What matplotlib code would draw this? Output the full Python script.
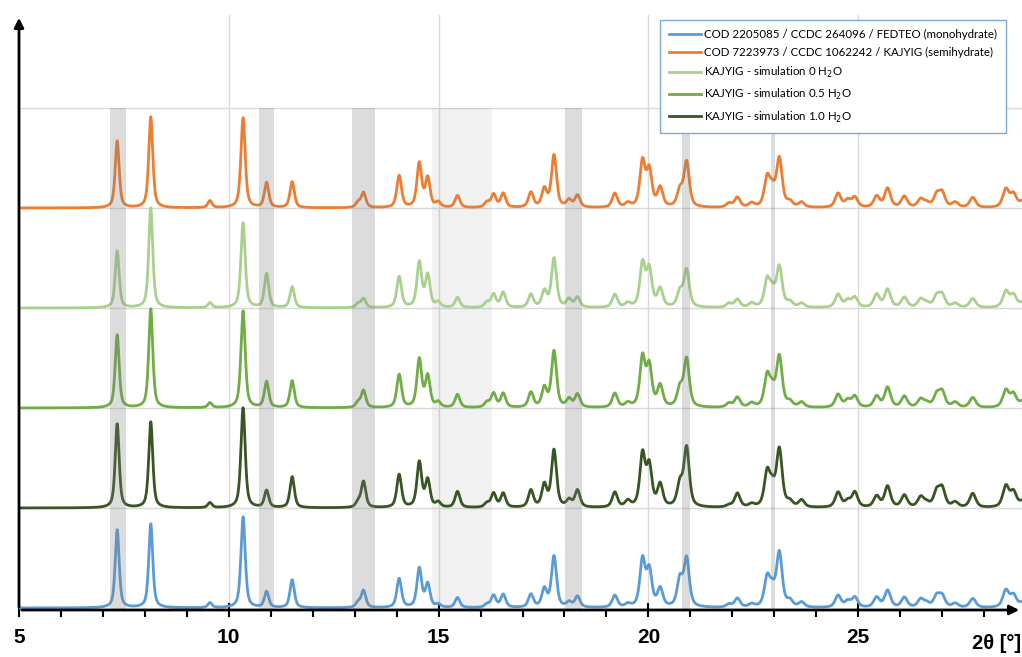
import numpy as np
import matplotlib.pyplot as plt

# peak positions [2theta] and heights
peaks = [7.34, 8.14, 9.55, 10.34, 10.90, 11.51, 13.08, 13.21, 14.06, 14.54,
         14.74, 14.99, 15.45, 16.15, 16.31, 16.54, 17.20, 17.52, 17.75, 18.11,
         18.31, 19.20, 19.51, 19.86, 20.02, 20.28, 20.75, 20.91, 21.92, 22.12,
         22.46, 22.83, 22.95, 23.12, 23.37, 23.65, 24.52, 24.75, 24.92, 25.44,
         25.70, 26.10, 26.49, 26.63, 26.87, 27.00, 27.31, 27.73, 28.52, 28.70,
         28.92]

h_fedteo = [0.78, 0.84, 0.05, 0.91, 0.16, 0.28, 0.05, 0.17, 0.29, 0.39,
            0.23, 0.03, 0.10, 0.03, 0.12, 0.13, 0.13, 0.18, 0.51, 0.05,
            0.11, 0.12, 0.03, 0.47, 0.36, 0.18, 0.27, 0.48, 0.03, 0.09,
            0.03, 0.28, 0.15, 0.54, 0.06, 0.05, 0.12, 0.06, 0.10, 0.10,
            0.17, 0.10, 0.08, 0.04, 0.11, 0.11, 0.04, 0.09, 0.17, 0.12, 0.05]
h_sim10 = [0.84, 0.86, 0.05, 1.00, 0.17, 0.31, 0.05, 0.26, 0.33, 0.45,
           0.27, 0.05, 0.16, 0.04, 0.14, 0.14, 0.17, 0.22, 0.57, 0.07,
           0.17, 0.15, 0.06, 0.52, 0.40, 0.22, 0.22, 0.59, 0.02, 0.14,
           0.03, 0.33, 0.17, 0.57, 0.05, 0.07, 0.15, 0.06, 0.15, 0.11,
           0.21, 0.12, 0.10, 0.04, 0.15, 0.18, 0.05, 0.14, 0.21, 0.15, 0.06]
h_sim05 = [0.73, 0.99, 0.05, 0.97, 0.26, 0.27, 0.05, 0.17, 0.33, 0.48,
           0.31, 0.05, 0.13, 0.05, 0.14, 0.14, 0.15, 0.19, 0.56, 0.08,
           0.13, 0.14, 0.04, 0.49, 0.40, 0.21, 0.18, 0.48, 0.04, 0.10,
           0.04, 0.30, 0.15, 0.50, 0.05, 0.05, 0.13, 0.07, 0.11, 0.11,
           0.20, 0.11, 0.08, 0.04, 0.12, 0.15, 0.05, 0.10, 0.17, 0.13, 0.06]
h_sim0 = [0.57, 1.00, 0.05, 0.85, 0.34, 0.21, 0.04, 0.09, 0.31, 0.45,
          0.32, 0.05, 0.10, 0.05, 0.13, 0.15, 0.13, 0.16, 0.49, 0.08,
          0.10, 0.13, 0.04, 0.43, 0.37, 0.18, 0.15, 0.37, 0.04, 0.08,
          0.04, 0.26, 0.14, 0.40, 0.05, 0.04, 0.13, 0.07, 0.10, 0.13,
          0.18, 0.10, 0.08, 0.04, 0.11, 0.12, 0.04, 0.09, 0.16, 0.12, 0.05]
h_kajyig = [0.67, 0.91, 0.07, 0.90, 0.25, 0.26, 0.05, 0.15, 0.32, 0.44,
            0.29, 0.05, 0.12, 0.05, 0.13, 0.14, 0.15, 0.18, 0.52, 0.07,
            0.12, 0.14, 0.04, 0.45, 0.36, 0.19, 0.16, 0.45, 0.04, 0.10,
            0.04, 0.28, 0.15, 0.48, 0.05, 0.05, 0.14, 0.07, 0.10, 0.11,
            0.19, 0.11, 0.08, 0.04, 0.12, 0.14, 0.05, 0.10, 0.18, 0.13, 0.06]

labels = ['COD 2205085 / CCDC 264096 / FEDTEO (monohydrate)',
          'COD 7223973 / CCDC 1062242 / KAJYIG (semihydrate)',
          'KAJYIG - simulation 0 H$_2$O',
          'KAJYIG - simulation 0.5 H$_2$O',
          'KAJYIG - simulation 1.0 H$_2$O']

bands_dark = [(7.17, 7.55), (10.72, 11.08), (12.93, 13.49), (18.02, 18.41),
              (20.81, 21.00), (22.91, 23.02)]
bands_light = [(14.84, 16.27)]

x = np.linspace(5, 29, 5000)


def pattern(heights):
    y = np.zeros_like(x)
    for p, h in zip(peaks, heights):
        w = 0.105 + 0.003 * (p - 5)
        d = (x - p) / (w / 2)
        y += h * (0.6 / (1 + d ** 2) + 0.4 * np.exp(-np.log(2) * d ** 2))
    return y


fig = plt.figure(figsize=(10.22, 6.57), dpi=100)
ax = fig.add_axes([19 / 1022, 47 / 657, 1003 / 1022, 595 / 657])
ax.set_xlim(5, 5 + 1003 / 41.96)
ax.set_ylim(-0.02, 5.93)

for v in [10, 15, 20, 25]:
    ax.axvline(v, color='#d9d9d9', lw=1, zorder=0)
for k in range(1, 6):
    ax.axhline(k, color='#d9d9d9', lw=1, zorder=0)

series = [(h_fedteo, '#5b9bd5', 0, labels[0]),
          (h_sim10, '#375623', 1, labels[4]),
          (h_sim05, '#70ad47', 2, labels[3]),
          (h_sim0, '#a9d18e', 3, labels[2]),
          (h_kajyig, '#ed7d31', 4, labels[1])]
handles = {}
for h, c, off, lab in series:
    ln, = ax.plot(x, pattern(h) + off, color=c, lw=2, zorder=2)
    handles[lab] = ln

for a, b in bands_dark:
    ax.fill_between([a, b], -0.02, 5, color='#7f7f7f', alpha=0.27, lw=0, zorder=3)
for a, b in bands_light:
    ax.fill_between([a, b], -0.02, 5, color='#7f7f7f', alpha=0.1, lw=0, zorder=1)

for s in ax.spines.values():
    s.set_visible(False)
ax.annotate('', xy=(1.0, 0), xytext=(0, 0), xycoords='axes fraction',
            arrowprops=dict(arrowstyle='-|>', color='black', lw=2, mutation_scale=14))
ax.annotate('', xy=(0, 1.0), xytext=(0, 0), xycoords='axes fraction',
            arrowprops=dict(arrowstyle='-|>', color='black', lw=2, mutation_scale=14))

ax.set_xticks([5, 10, 15, 20, 25])
ax.set_xticks(np.arange(6, 29, 1), minor=True)
ax.set_yticks([])
ax.tick_params(axis='x', which='major', direction='inout', length=10, width=1.5,
               pad=8, labelsize=15)
ax.tick_params(axis='x', which='minor', direction='out', length=5, width=1.5)
for t in ax.get_xticklabels():
    t.set_fontweight('bold')
    t.set_family(['Liberation Sans', 'DejaVu Sans'])

fig.text(0.999, 0.006, '2θ [°]', ha='right', va='bottom', fontsize=14.5,
         fontweight='bold', family=['Liberation Sans', 'DejaVu Sans'])

leg = ax.legend([handles[l] for l in labels], labels, loc='upper right',
                bbox_to_anchor=((1006 - 19) / 1003, 1 - 5 / 595), borderaxespad=0,
                prop={'family': ['Lato', 'DejaVu Sans'], 'size': 8.3},
                frameon=True, fancybox=False, handlelength=2.8, handletextpad=0.3,
                labelspacing=0.62, borderpad=0.75, framealpha=1)
leg.get_frame().set_edgecolor('#7fa9d9')
leg.get_frame().set_linewidth(1)
for ln in leg.get_lines():
    ln.set_linewidth(2)

fig.savefig('out.png', dpi=100)
